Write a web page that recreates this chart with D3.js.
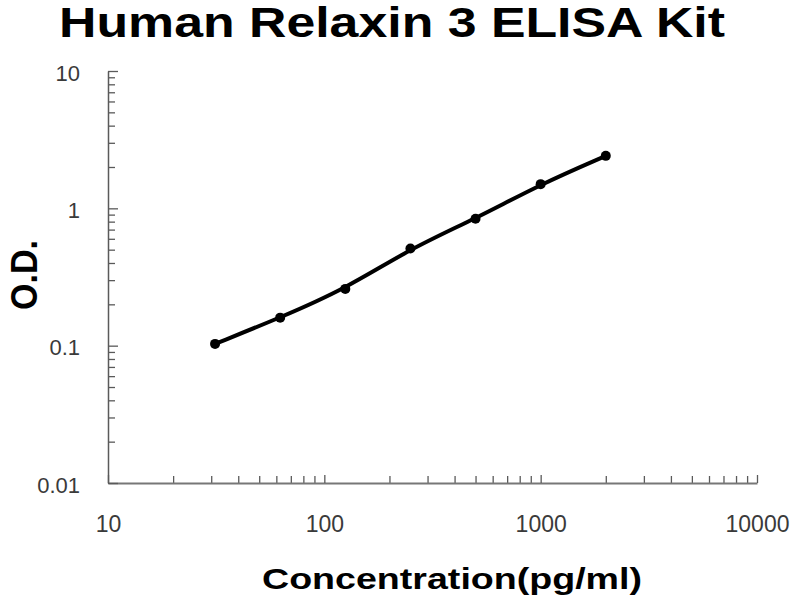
<!DOCTYPE html>
<html>
<head>
<meta charset="utf-8">
<script src="https://cdn.jsdelivr.net/npm/d3@7"></script>
<style>
  html, body { margin: 0; padding: 0; background: #fff; }
  svg { display: block; font-family: Arial, "Liberation Sans", sans-serif; }
</style>
</head>
<body>
<div id="chart"></div>
<script>
// standard curve readings
const concentrations = [31.25, 62.5, 125, 250, 500, 1000, 2000];
const odValues = [0.103, 0.160, 0.259, 0.51, 0.84, 1.50, 2.41];

const xTicks = [10, 100, 1000, 10000];
const xTickLabels = ["10", "100", "1000", "10000"];
const yTicks = [0.01, 0.1, 1, 10];
const yTickLabels = ["0.01", "0.1", "1", "10"];

const width = 800, height = 600;
const margin = { top: 71, right: 43, bottom: 117, left: 108 };

const svg = d3.select("#chart").append("svg")
  .attr("width", width)
  .attr("height", height);

const x = d3.scaleLog()
  .domain([10, 10000])
  .range([margin.left, width - margin.right]);

const y = d3.scaleLog()
  .domain([0.01, 10])
  .range([height - margin.bottom, margin.top]);

const axisColor = "#5a5a5a";

// minor ticks (no labels)
const xMinor = x.ticks().filter(d => !xTicks.includes(d));
const yMinor = y.ticks().filter(d => !yTicks.includes(d));

const xAxisG = svg.append("g")
  .attr("transform", `translate(0,${height - margin.bottom})`);
xAxisG.append("g")
  .call(d3.axisBottom(x).tickValues(xMinor).tickSizeInner(-7).tickSizeOuter(0).tickFormat(""))
  .call(g => g.select(".domain").remove());
xAxisG.append("g")
  .call(d3.axisBottom(x).tickValues(xTicks).tickSizeInner(-8).tickSizeOuter(0).tickPadding(33)
    .tickFormat((d, i) => xTickLabels[i]))
  .call(g => g.select(".domain").attr("stroke-width", 2));
xAxisG.selectAll("line").attr("stroke", axisColor).attr("stroke-width", 1.3);
xAxisG.selectAll(".domain").attr("stroke", "#777");
xAxisG.selectAll("text")
  .attr("fill", "#3a3a3a")
  .style("font-size", "23px");

const yAxisG = svg.append("g")
  .attr("transform", `translate(${margin.left},0)`);
yAxisG.append("g")
  .call(d3.axisLeft(y).tickValues(yMinor).tickSizeInner(-7).tickSizeOuter(0).tickFormat(""))
  .call(g => g.select(".domain").remove());
yAxisG.append("g")
  .call(d3.axisLeft(y).tickValues(yTicks).tickSizeInner(-10).tickSizeOuter(0).tickPadding(28)
    .tickFormat((d, i) => yTickLabels[i]));
yAxisG.selectAll("line").attr("stroke", axisColor).attr("stroke-width", 1.3);
yAxisG.selectAll(".domain").attr("stroke", axisColor).attr("stroke-width", 1.5);
yAxisG.selectAll("text")
  .attr("fill", "#3a3a3a")
  .attr("dy", "0.42em")
  .style("font-size", "22px");

// fitted curve
const line = d3.line()
  .x((d, i) => x(concentrations[i]))
  .y(d => y(d))
  .curve(d3.curveBasis);

svg.append("path")
  .datum(odValues)
  .attr("fill", "none")
  .attr("stroke", "#000")
  .attr("stroke-width", 4)
  .attr("d", line);

svg.append("g").selectAll("circle")
  .data(odValues)
  .join("circle")
  .attr("cx", (d, i) => x(concentrations[i]))
  .attr("cy", d => y(d))
  .attr("r", 5)
  .attr("fill", "#000");

// titles
svg.append("text")
  .attr("x", 392)
  .attr("y", 37)
  .attr("text-anchor", "middle")
  .attr("textLength", 666)
  .attr("lengthAdjust", "spacingAndGlyphs")
  .style("font-size", "42px")
  .style("font-weight", "bold")
  .text("Human Relaxin 3 ELISA Kit");

svg.append("text")
  .attr("x", 452)
  .attr("y", 589)
  .attr("text-anchor", "middle")
  .attr("textLength", 380)
  .attr("lengthAdjust", "spacingAndGlyphs")
  .style("font-size", "30px")
  .style("font-weight", "bold")
  .text("Concentration(pg/ml)");

svg.append("text")
  .attr("transform", "translate(37,275) rotate(-90)")
  .attr("text-anchor", "middle")
  .attr("textLength", 70)
  .attr("lengthAdjust", "spacingAndGlyphs")
  .style("font-size", "36px")
  .style("font-weight", "bold")
  .text("O.D.");
</script>
</body>
</html>
